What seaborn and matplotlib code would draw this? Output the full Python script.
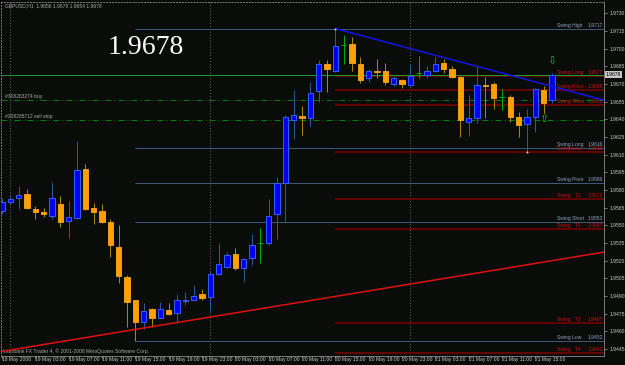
import numpy as np
import pandas as pd
import seaborn as sns
import matplotlib
matplotlib.use('Agg')
import matplotlib.pyplot as plt
from matplotlib import transforms

symbol = 'GBPUSD,H1'

# hourly bars, bar 0 = 18 May 23:00
opens = [1.9562, 1.9570, 1.9573, 1.9577, 1.9564, 1.9561, 1.9558, 1.9568, 1.9554, 1.9556,
         1.9598, 1.9565, 1.9562, 1.9553, 1.9532, 1.9506, 1.9487, 1.9468, 1.9479, 1.9471,
         1.9478, 1.9476, 1.9486, 1.9487, 1.9492, 1.9489, 1.9509, 1.9515, 1.9526, 1.9514,
         1.9522, 1.9535, 1.9535, 1.9560, 1.9586, 1.9639, 1.9643, 1.9641, 1.9664, 1.9687,
         1.9681, 1.9703, 1.9704, 1.9687, 1.9675, 1.9681, 1.9681, 1.9670, 1.9673, 1.9669,
         1.9679, 1.9678, 1.9681, 1.9688, 1.9683, 1.9676, 1.9638, 1.9641, 1.9669, 1.9670,
         1.9659, 1.9659, 1.9642, 1.9636, 1.9642, 1.9665, 1.9656]
highs = [1.9573, 1.9577, 1.9583, 1.9581, 1.9566, 1.9565, 1.9587, 1.9575, 1.9571, 1.9622,
         1.9602, 1.9569, 1.9568, 1.9555, 1.9550, 1.9508, 1.9487, 1.9484, 1.9480, 1.9485,
         1.9484, 1.9492, 1.9493, 1.9499, 1.9496, 1.9512, 1.9535, 1.9527, 1.9531, 1.9522,
         1.9543, 1.9548, 1.9572, 1.9591, 1.9644, 1.9665, 1.9651, 1.9672, 1.9690, 1.9690,
         1.9717, 1.9712, 1.9710, 1.9693, 1.9683, 1.9691, 1.9688, 1.9677, 1.9674, 1.9686,
         1.9694, 1.9685, 1.9693, 1.9691, 1.9685, 1.9677, 1.9661, 1.9685, 1.9676, 1.9672,
         1.9666, 1.9661, 1.9646, 1.9649, 1.9667, 1.9668, 1.9679]
lows = [1.9560, 1.9567, 1.9564, 1.9564, 1.9555, 1.9557, 1.9555, 1.9549, 1.9539, 1.9555,
        1.9563, 1.9551, 1.9552, 1.9523, 1.9501, 1.9464, 1.9452, 1.9462, 1.9464, 1.9471,
        1.9474, 1.9467, 1.9482, 1.9487, 1.9487, 1.9477, 1.9508, 1.9514, 1.9512, 1.9502,
        1.9516, 1.9518, 1.9533, 1.9538, 1.9554, 1.9623, 1.9627, 1.9634, 1.9655, 1.9663,
        1.9680, 1.9687, 1.9681, 1.9671, 1.9672, 1.9675, 1.9669, 1.9668, 1.9667, 1.9668,
        1.9675, 1.9675, 1.9680, 1.9679, 1.9675, 1.9625, 1.9626, 1.9637, 1.9641, 1.9649,
        1.9648, 1.9638, 1.9625, 1.9612, 1.9629, 1.9645, 1.9654]
closes = [1.9570, 1.9572, 1.9576, 1.9565, 1.9561, 1.9560, 1.9573, 1.9553, 1.9557, 1.9597,
          1.9564, 1.9561, 1.9553, 1.9533, 1.9507, 1.9485, 1.9468, 1.9477, 1.9471, 1.9479,
          1.9475, 1.9487, 1.9487, 1.9490, 1.9488, 1.9509, 1.9517, 1.9525, 1.9514, 1.9521,
          1.9533, 1.9535, 1.9558, 1.9586, 1.9642, 1.9644, 1.9641, 1.9662, 1.9687, 1.9683,
          1.9702, 1.9703, 1.9688, 1.9673, 1.9681, 1.9680, 1.9672, 1.9675, 1.9670, 1.9677,
          1.9679, 1.9681, 1.9687, 1.9683, 1.9676, 1.9639, 1.9641, 1.9669, 1.9668, 1.9658,
          1.9659, 1.9642, 1.9635, 1.9642, 1.9666, 1.9654, 1.9678]

date_labels = ['18 May 2008', '19 May 03:00', '19 May 07:00', '19 May 11:00', '19 May 15:00',
               '19 May 19:00', '19 May 23:00', '20 May 03:00', '20 May 07:00', '20 May 11:00',
               '20 May 15:00', '20 May 19:00', '20 May 23:00', '21 May 03:00', '21 May 07:00',
               '21 May 11:00', '21 May 15:00']
day_starts = [1, 25, 49]

# swing levels (blue set drawn from bar 16, red set from bar 40)
blue_names = ['Swing High', 'Swing Long', 'Swing Pivot', 'Swing Short', 'Swing Low']
blue_prices = [1.9717, 1.9616, 1.9586, 1.9553, 1.9452]
red_names = ['Swing Long', 'Swing Pivot', 'Swing Short', 'Swing Low',
             'Swing   T1', 'Swing   T2', 'Swing   T3', 'Swing   T4']
red_prices = [1.9677, 1.9665, 1.9652, 1.9612, 1.9572, 1.9547, 1.9467, 1.9442]
blue_start, red_start = 16, 40

order_names = ['#308283274 buy', '#308285712 sell stop']
order_prices = [1.9656, 1.9639]

down_bars, down_prices = [40, 66], [1.9717, 1.9668]
up_bars, up_prices = [0, 66], [1.9443, 1.9520]

swing_pts_bars, swing_pts_prices = [40, 63], [1.9717, 1.9612]

BG = '#0a0c0a'
BULL, BULL_EDGE, BULL_WICK = '#0000f0', '#2f5cff', '#2b5a96'
BEAR, BEAR_EDGE, BEAR_WICK = '#ffa000', '#e89a18', '#a8860e'
DOJI = '#00a800'
AXC = '#7a7a7a'
TXT = '#a8a8a8'

sns.set_style('dark', {'axes.facecolor': BG, 'figure.facecolor': BG,
                       'axes.edgecolor': AXC, 'axes.grid': False})
plt.rcParams['font.family'] = ['Liberation Sans', 'DejaVu Sans']

df = pd.DataFrame({'bar': np.arange(len(opens)), 'open': opens, 'high': highs,
                   'low': lows, 'close': closes})
df['kind'] = np.select([df.close > df.open, df.close < df.open], ['bull', 'bear'], 'doji')

fig = plt.figure(figsize=(6.25, 3.65), dpi=100)
ax = fig.add_axes([1 / 625, 9 / 365, 603 / 625, 354 / 365])
xmin, xmax = -0.12, 72.24
ax.set_xlim(xmin, xmax)
ax.set_ylim(1.943908, 1.973959)

# period separators
for b in day_starts:
    ax.axvline(b, color='#6a6a6a', lw=0.7, ls=(0, (1, 2)), zorder=1)

lw1 = 0.72  # one pixel
ax.hlines(blue_prices, blue_start, xmax, color='#3b5878', lw=lw1, zorder=2)
ax.hlines(red_prices, red_start, xmax, color='#780000', lw=lw1 * 1.6, zorder=2)
ax.hlines(order_prices, xmin, xmax, color='#00800a', lw=lw1, ls=(0, (6, 3, 1, 3)), zorder=2)
ax.axhline(closes[-1], color='#1c9a1c', lw=lw1, zorder=2)

# candles
wick_col = df.kind.map({'bull': BULL_WICK, 'bear': BEAR_WICK, 'doji': DOJI})
ax.vlines(df.bar, df.low, df.high, colors=wick_col, lw=lw1, zorder=3)
body = df[df.kind != 'doji']
bottom = body[['open', 'close']].min(axis=1)
height = (body.close - body.open).abs().clip(lower=0.00008)
ax.bar(body.bar, height, bottom=bottom, width=0.66,
       color=body.kind.map({'bull': BULL, 'bear': BEAR}),
       edgecolor=body.kind.map({'bull': BULL_EDGE, 'bear': BEAR_EDGE}),
       linewidth=lw1, zorder=4)
doji = df[df.kind == 'doji']
ax.hlines(doji.open, doji.bar - 0.33, doji.bar + 0.33, color=DOJI, lw=lw1, zorder=4)

# trend lines, extended to the right edge
def extend(bars, prices, x0, x1):
    slope = (prices[1] - prices[0]) / (bars[1] - bars[0])
    xs = np.array([x0, x1])
    return xs, prices[0] + slope * (xs - bars[0])

xs, ys = extend(down_bars, down_prices, down_bars[0], xmax)
sns.lineplot(x=xs, y=ys, ax=ax, color='#1414e6', lw=1.1, zorder=5)
xs, ys = extend(up_bars, up_prices, xmin, xmax)
sns.lineplot(x=xs, y=ys, ax=ax, color='#e01010', lw=1.1, zorder=5)
ax.scatter(swing_pts_bars, swing_pts_prices, s=2, color='#d8d8e8', zorder=6, linewidths=0)

# arrows
ax.text(66, 1.9690, '\u21e9', color='#10c010', fontsize=8, ha='center', va='center',
        family='DejaVu Sans', zorder=6)
ax.text(65, 1.9640, '\u21e7', color='#10c010', fontsize=8, ha='center', va='center',
        family='DejaVu Sans', zorder=6)

# level labels
trans = transforms.blended_transform_factory(ax.transAxes, ax.transData)
lab_t = transforms.offset_copy(trans, fig=fig, y=1, units='dots')
for names, prices, col in [(blue_names, blue_prices, '#8aa4c4'),
                           (red_names, red_prices, '#d41010')]:
    for n, p in zip(names, prices):
        ax.text(0.922, p, n, transform=lab_t, color=col, fontsize=3.6, ha='left', va='bottom')
        ax.text(0.998, p, f'{p:.4f}', transform=lab_t, color=col, fontsize=3.6,
                ha='right', va='bottom')
for n, p in zip(order_names, order_prices):
    ax.text(0.007, p, n, transform=lab_t, color=TXT, fontsize=3.6, ha='left', va='bottom')

# texts
ax.text(0.007, 0.989, f'{symbol}  {opens[-1]:.4f} {highs[-1]:.4f} {lows[-1]:.4f} {closes[-1]:.4f}',
        transform=ax.transAxes, color=TXT, fontsize=3.6, va='center')
ax.text(0.003, 0.013, 'Interbank FX Trader 4, \u00a9 2001-2008 MetaQuotes Software Corp.',
        transform=ax.transAxes, color=TXT, fontsize=3.6, va='center')
ax.text(0.176, 0.853, f'{closes[-1]:.4f}', transform=ax.transAxes, color='white',
        fontsize=20, family='Liberation Serif', va='baseline')

# axes
ax.yaxis.tick_right()
ax.set_yticks(np.arange(1.9445, 1.97305, 0.0015))
ax.yaxis.set_major_formatter(lambda v, pos: f'{v:.4f}')
ax.set_xticks(np.arange(0, 4 * len(date_labels), 4))
ax.set_xticklabels(date_labels, ha='left')
ax.tick_params(axis='both', colors=AXC, labelcolor='#c8c8c8', labelsize=3.6,
               length=2.5, width=0.7, direction='out', pad=1.5)
ax.tick_params(axis='y', right=True, left=False)
ax.tick_params(axis='x', bottom=True, pad=-2.0)
ax.set_xlabel(None)
ax.set_ylabel(None)
for s in ['top', 'left']:
    ax.spines[s].set_linestyle((0, (1, 2)))
for s in ax.spines.values():
    s.set_color(AXC)
    s.set_linewidth(0.7)

ax.text(1.003, closes[-1], f'{closes[-1]:.4f}', transform=trans, color='black',
        fontsize=3.6, ha='left', va='center',
        bbox=dict(boxstyle='square,pad=0.25', fc='#c8c8c8', ec='none'))

fig.savefig('out.png', dpi=100, facecolor=BG)
